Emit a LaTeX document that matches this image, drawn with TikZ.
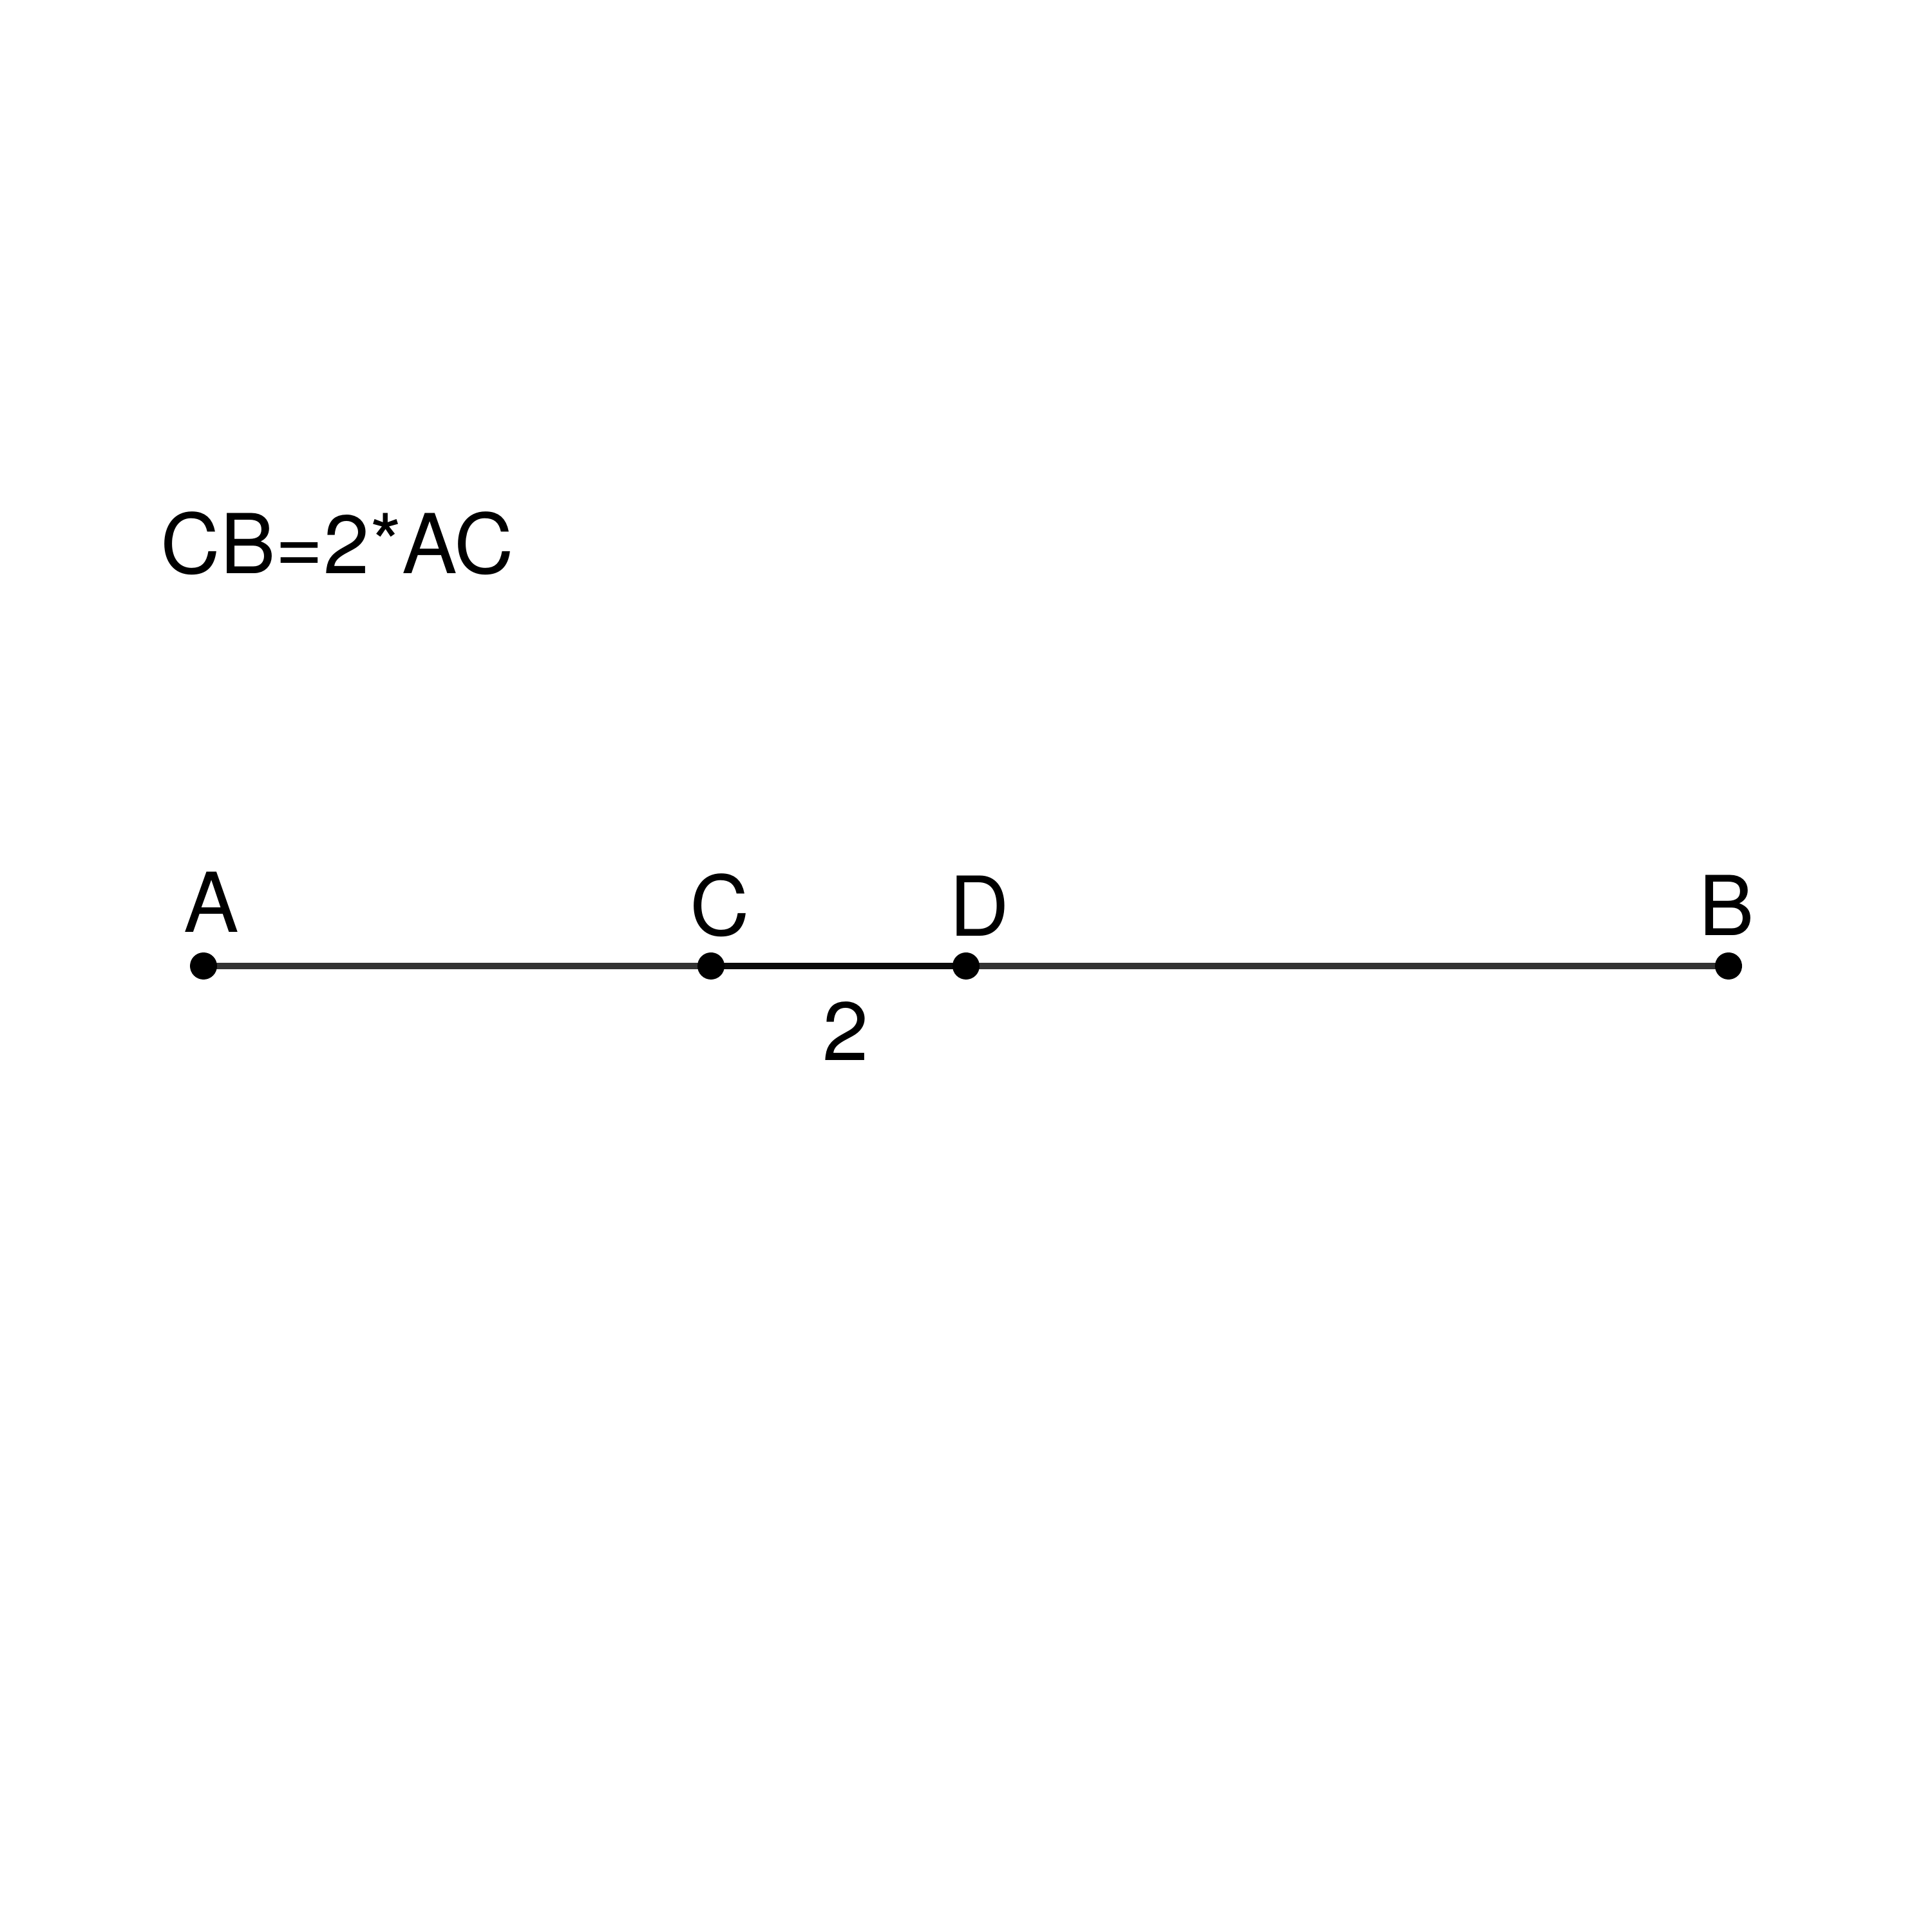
\documentclass[tikz,border=0pt]{standalone}
\usepackage{fontspec}
\setmainfont{TeX Gyre Heros}

\definecolor{seggray}{HTML}{333333}
\definecolor{segdark}{HTML}{0A0A0A}

\tikzset{
  pt/.style={circle, fill=black, inner sep=0pt, minimum size=0.42cm},
  lbl/.style={inner sep=0pt, anchor=base, font={\fontsize{36.5}{40}\selectfont}},
  seg/.style={line width=0.1cm, draw=seggray}
}

\begin{document}
\begin{tikzpicture}

\useasboundingbox (0,0) rectangle (30,30);

% the relation
\node [lbl, anchor=base west] (rel) at (2.49,21.09) {CB=2*AC};

% points on the segment
\coordinate (A) at (3.16,15);
\coordinate (C) at (11.04,15);
\coordinate (D) at (15.00,15);
\coordinate (B) at (26.84,15);

\draw [seg] (A) -- (C);
\draw [seg] (D) -- (B);
\draw [seg, draw=segdark] (C) -- (D);

\node [pt] (pA) at (A) {};
\node [pt] (pC) at (C) {};
\node [pt] (pD) at (D) {};
\node [pt] (pB) at (B) {};

% labels
\node [lbl] (lA) at (3.28,15.52) {A};
\node [lbl] (lC) at (11.18,15.47) {C};
\node [lbl] (lD) at (15.21,15.46) {D};
\node [lbl] (lB) at (26.81,15.47) {B};

\node [lbl] (len) at (13.13,13.53) {2};

\end{tikzpicture}
\end{document}
